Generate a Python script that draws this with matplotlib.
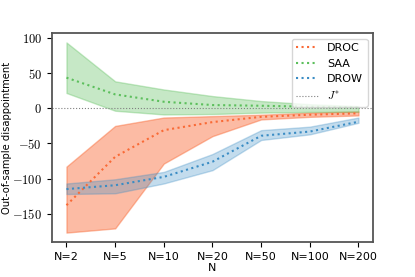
import numpy as np
import matplotlib.pyplot as plt
from matplotlib.ticker import FuncFormatter

plt.rcParams['mathtext.fontset'] = 'cm'
plt.rcParams['font.size'] = 8

labels = ['N=2', 'N=5', 'N=10', 'N=20', 'N=50', 'N=100', 'N=200']

droc_mean = [-138, -69, -31, -19.5, -12, -9, -7]
droc_hi = [-83, -25, -13, -11, -9, -6, -4.3]
droc_lo = [-177, -171, -78.6, -39.5, -15.7, -12, -10]

saa_mean = [43.8, 20, 9.5, 4.8, 3.8, 2.4, 1.4]
saa_hi = [94, 38.6, 27, 17.6, 10.5, 6, 3.3]
saa_lo = [22, -3.3, -8.6, -8, -6, -5, -4.8]

drow_mean = [-115, -109.5, -97.6, -76, -39, -33, -19]
drow_hi = [-107, -101, -90.5, -65, -31, -26, -13]
drow_lo = [-122, -121, -107, -88, -45, -37, -20.5]

x = np.arange(len(labels))

fig = plt.figure(figsize=(4.15, 2.77), dpi=100)
ax = fig.add_subplot(111)

c_droc = '#f96a36'
c_saa = '#5cbf5c'
c_drow = '#3a8cc4'

ax.fill_between(x, droc_lo, droc_hi, color=c_droc, alpha=0.45, lw=1)
ax.plot(x, droc_mean, ':', color=c_droc, lw=1.5, label='DROC')
ax.fill_between(x, saa_lo, saa_hi, color=c_saa, alpha=0.35, lw=1)
ax.plot(x, saa_mean, ':', color=c_saa, lw=1.5, label='SAA')
ax.fill_between(x, drow_lo, drow_hi, color=c_drow, alpha=0.3, lw=1)
ax.plot(x, drow_mean, ':', color=c_drow, lw=1.5, label='DROW')
ax.axhline(0, color='grey', ls=':', lw=0.8, label='$J^{*}$')

ax.set_xticks(x)
ax.set_xticklabels(labels)
ax.set_yticks([-150, -100, -50, 0, 50, 100])
ax.yaxis.set_major_formatter(FuncFormatter(lambda v, p: '$%d$' % v))
ax.tick_params(axis='y', labelsize=9)
ax.set_xlabel('N', labelpad=1)
ax.set_ylabel('Out-of-sample disappointment', fontsize=7.2)
ax.yaxis.set_label_coords(-0.125, 0.5)
for s in ax.spines.values():
    s.set_linewidth(1.3)
    s.set_color('#555555')

ax.legend(loc='upper right', fontsize=8)
fig.subplots_adjust(left=0.125, right=0.899, top=0.881, bottom=0.126)
fig.savefig('out.png', dpi=100)
